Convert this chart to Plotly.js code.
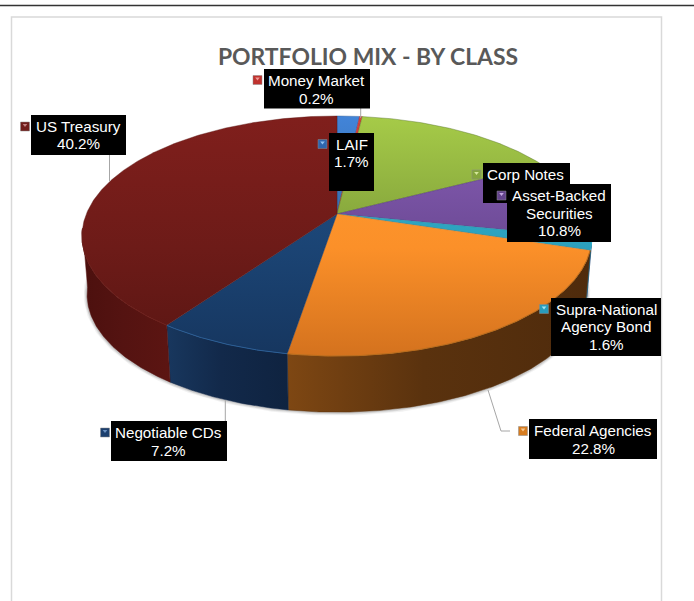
<!DOCTYPE html>
<html>
<head>
<meta charset="utf-8">
<script src="https://cdn.plot.ly/plotly-3.0.1.min.js"></script>
<style>html,body{margin:0;padding:0;background:#fff}#chart{width:694px;height:601px}</style>
</head>
<body>
<div id="chart"></div>
<script>
// ---- data ----
const categories = ["LAIF","Money Market","Corp Notes","Asset-Backed Securities","Supra-National Agency Bond","Federal Agencies","Negotiable CDs","US Treasury"];
const values = [1.7,0.2,15.5,10.8,1.6,22.8,7.2,40.2];
const titleText = "PORTFOLIO MIX - BY CLASS";

// ---- styles ----
const topBack  = ["#4284d8","#d8403a","#a6cb48","#8a5fb8","#35b7d4","#ff9c30","#1f5088","#801f1c"];
const topMid   = ["#33689f","#c03632","#7f9e3a","#6b4994","#2ca0bc","#fb9029","#1b4474","#6d1b18"];
const topFront = ["#24508a","#a82c28","#4f6a26","#4c3370","#228aa5","#d4721e","#16365f","#5a1613"];
const wallLeft = ["#24508a","#a82c28","#4f6a26","#4c3370","#1f7f99","#7e4713","#18375e","#4c100e"];
const wallMid  = ["#24508a","#a82c28","#4f6a26","#4c3370","#1c7590","#5a320e","#12294a","#541311"];
const wallRight= ["#24508a","#a82c28","#4f6a26","#4c3370","#1a6c82","#4f2b0c","#0f2340","#5c1512"];
const rimLight = ["#4284d8","#d8403a","#a9ce4c","#8a5fb8","#35b7d4","#b86c1c","#2c5f96","#6e201c"];
const keyColor = ["#2f66ad","#c0322e","#84a53c","#64448c","#2a9cbc","#d67c20","#1c3f6e","#701c1a"];
const keyLight = ["#8fc0f0","#f09a96","#d4e89a","#c4a8e0","#a0e4f4","#f8c890","#6a90c0","#c08080"];

// ---- projection of the disc ----
const geo = {cx:337, cy:214, a:250.7, k:116, p:0.1833, depth:59, shrink:0.98, wallFrom:97, wallTo:263};
function rim(phi, bottom){
  const r = phi*Math.PI/180, d = 1 + geo.p*Math.cos(r), s = bottom ? geo.shrink : 1;
  return [geo.cx + s*geo.a*Math.sin(r)/d, geo.cy - s*geo.k*Math.cos(r)/d + (bottom ? geo.depth : 0)];
}
function arc(from, to, bottom){
  const n = Math.max(2, Math.ceil(Math.abs(to-from))*2), pts = [];
  for(let i=0;i<=n;i++) pts.push(rim(from+(to-from)*i/n, bottom));
  return pts;
}
const total = values.reduce((a,b)=>a+b,0);
let running = 0;
const spans = values.map(v=>{const s=[running/total*360,(running+v)/total*360]; running+=v; return s;});

const traces = [];
function poly(pts, extra){
  traces.push(Object.assign({type:"scatter",mode:"lines",x:pts.map(p=>p[0]),y:pts.map(p=>p[1]),hoverinfo:"skip",showlegend:false,line:{width:0}},extra));
}
// soft shadow
[[7,0.05],[5,0.07],[3,0.10]].forEach(s=>{
  poly(arc(geo.wallFrom-6,geo.wallTo+6,true),{line:{width:s[0],color:"rgba(0,0,0,"+s[1]+")"}});
});
// walls
spans.forEach((sp,i)=>{
  const a=Math.max(sp[0],geo.wallFrom), b=Math.min(sp[1],geo.wallTo);
  if(b<=a) return;
  const t=arc(a,b,false), u=arc(b,a,true), pts=t.concat(u,[t[0]]);
  const xs=pts.map(p=>p[0]);
  poly(pts,{fill:"toself",line:{width:0.5,color:wallMid[i]},
    fillgradient:{type:"horizontal",start:Math.min(...xs),stop:Math.max(...xs),
      colorscale:[[0,wallLeft[i]],[0.45,wallMid[i]],[1,wallRight[i]]]}});
});
// top faces
spans.forEach((sp,i)=>{
  const c=[geo.cx,geo.cy], pts=[c].concat(arc(sp[0],sp[1],false),[c]);
  poly(pts,{fill:"toself",line:{width:0.4,color:topFront[i]},
    fillgradient:{type:"vertical",start:116,stop:356,colorscale:[[0,topBack[i]],[0.55,topMid[i]],[1,topFront[i]]]}});
});
// rim highlights
spans.forEach((sp,i)=>{
  const a=Math.max(sp[0],geo.wallFrom), b=Math.min(sp[1],geo.wallTo);
  if(b>a) poly(arc(a,b,false),{line:{width:1,color:rimLight[i]}});
});

// ---- leader lines ----
const leaderX = [[109.5,109.5],[360.7,360.7],[225.3,225.3],[488,501,510]];
const leaderY = [[155,181],[108,118],[400,421],[390,431,431]];
leaderX.forEach((x,i)=>traces.push({type:"scatter",mode:"lines",x:x,y:leaderY[i],hoverinfo:"skip",showlegend:false,line:{width:1,color:"#a6a6a6"}}));

// ---- callouts ----
const labelIndex = [2,3,1,7,0,4,5,6];
const boxes = {2:[483,570,163,203],3:[507,611,184,242],1:[264,370,69,108.5],7:[31,126,115,155],0:[329,374,133,191],4:[551,661,298,356],5:[529,657,419,459],6:[111,227,421,461]};
const lines = {2:["Corp Notes"],3:["Asset-Backed","Securities","10.8%"],1:["Money Market","0.2%"],7:["US Treasury","40.2%"],0:["LAIF","1.7%"],4:["Supra-National","Agency Bond","1.6%"],5:["Federal Agencies","22.8%"],6:["Negotiable CDs","7.2%"]};
const textX = {2:525.7,3:559,1:316,7:78.5,0:351.5,4:606,5:593,6:168};
const textY = {2:[174.5],3:[195.5,213.5,230.5],1:[80.5,98.5],7:[126.5,143.5],0:[144.5,161.5],4:[309.5,326.5,344.5],5:[430.5,448.5],6:[432.5,450.5]};
const keyX = {2:476.5,3:501.5,1:257.5,7:25,0:322.5,4:544,5:523,6:105};
const keyY = {2:174.5,3:195.5,1:80,7:126.5,0:144,4:309,5:431,6:432.5};

const annotations = [];
labelIndex.forEach(i=>{
  const b=boxes[i];
  poly([[b[0],b[2]],[b[1],b[2]],[b[1],b[3]],[b[0],b[3]],[b[0],b[2]]],{fill:"toself",fillcolor:"#000",line:{width:0,color:"#000"}});
  traces.push({type:"scatter",mode:"markers",x:[keyX[i]],y:[keyY[i]],hoverinfo:"skip",showlegend:false,
    marker:{symbol:"square",size:9,color:keyColor[i],line:{width:0.5,color:"#8a8a8a"}}});
  traces.push({type:"scatter",mode:"markers",x:[keyX[i]],y:[keyY[i]-1.5],hoverinfo:"skip",showlegend:false,
    marker:{symbol:"triangle-down",size:4,color:keyLight[i],line:{width:0}}});
  lines[i].forEach((t,j)=>annotations.push({x:textX[i],y:textY[i][j],xref:"x",yref:"y",text:t,showarrow:false,xanchor:"center",yanchor:"middle",
    font:{family:"Liberation Sans, Arial, sans-serif",size:15.2,color:"#ffffff"}}));
});

const layout = {
  width:694,height:601,margin:{l:0,r:0,t:0,b:0},paper_bgcolor:"#fff",plot_bgcolor:"#fff",showlegend:false,
  title:{text:"<b>"+titleText+"</b>",x:368/694,xanchor:"center",y:1-57/601,yanchor:"middle",font:{family:"Lato, Carlito, sans-serif",size:22.9,color:"#595959"}},
  xaxis:{range:[0,694],visible:false,fixedrange:true},
  yaxis:{range:[601,0],visible:false,fixedrange:true},
  shapes:[
    {type:"rect",layer:"below",xref:"x",yref:"y",x0:11.5,x1:661.5,y0:17,y1:610,line:{color:"#d9d9d9",width:1.5},fillcolor:"#fff"},
    {type:"line",layer:"below",xref:"x",yref:"y",x0:0,x1:694,y0:5.5,y1:5.5,line:{color:"#333333",width:1.5}}
  ],
  annotations:annotations
};
Plotly.newPlot("chart",traces,layout,{displayModeBar:false,staticPlot:true});
</script>
</body>
</html>
